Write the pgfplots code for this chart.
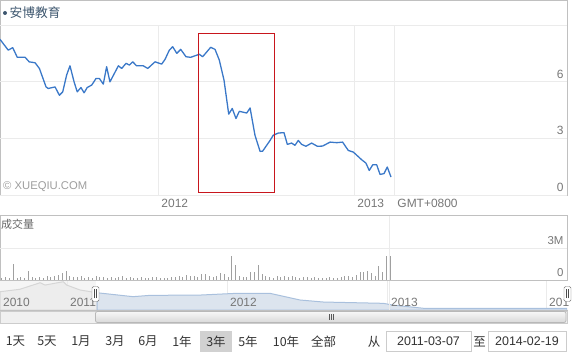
\documentclass[border=0pt]{standalone}
\usepackage{fontspec}
\setmainfont{Liberation Sans}
\newfontfamily\cjk{Noto Sans CJK SC}
\usepackage{pgfplots}
\pgfplotsset{compat=1.18}
\definecolor{pline}{RGB}{58,120,200}
\definecolor{framec}{HTML}{C0C0C0}
\definecolor{gridc}{HTML}{EBEBEB}
\definecolor{lab}{HTML}{777777}
\definecolor{leg}{HTML}{3E576F}
\definecolor{barc}{HTML}{A0A0A0}
\definecolor{navfill}{HTML}{DCE4EE}
\definecolor{navline}{HTML}{A9C0DD}
\definecolor{navgfill}{HTML}{EDEDED}
\definecolor{navgline}{HTML}{D6D6D6}
\definecolor{redbox}{HTML}{C8161D}
\begin{document}
\begin{tikzpicture}
\useasboundingbox (0,0) rectangle (574bp,352bp);
% pane frames
\draw[framec, line width=0.8bp] (0.5bp,156.5bp) rectangle (567.5bp,351.5bp);
\draw[framec, line width=0.8bp] (0.5bp,72bp) rectangle (567.5bp,136.5bp);
\fill[white!96!black] (0bp,42bp) rectangle (96bp,72bp);
% main price pane
\begin{axis}[
  at={(0bp,157bp)}, anchor=south west, scale only axis,
  width=567bp, height=170bp,
  xmin=2011.194, xmax=2014.087, ymin=0, ymax=9,
  axis line style={draw=none},
  xtick={2012,2013,2013.204}, xticklabels={2012,2013,GMT+0800},
  ytick={0,3,6,9}, yticklabels={0,3,6,},
  yticklabel pos=right,
  major tick length=0pt,
  grid=major, major grid style={gridc, line width=0.8bp},
  xticklabel style={anchor=north west, font=\fontsize{12}{14}\selectfont, text=lab, yshift=-1bp},
  yticklabel style={anchor=south east, font=\fontsize{12}{14}\selectfont, text=lab},
]
\addplot[pline, line width=1.3bp, line join=round] coordinates {
(2011.194,8.24) (2011.236,7.67) (2011.259,7.80) (2011.282,7.29) (2011.322,7.29)
(2011.343,7.05) (2011.373,7.00) (2011.395,6.70) (2011.429,5.72) (2011.440,5.64)
(2011.475,5.72) (2011.497,5.28) (2011.514,5.46) (2011.534,6.35) (2011.551,6.84)
(2011.572,5.99) (2011.588,5.46) (2011.607,5.69) (2011.623,5.41) (2011.639,5.69)
(2011.662,5.82) (2011.684,6.17) (2011.701,6.17) (2011.721,5.87) (2011.738,6.79)
(2011.755,5.99) (2011.798,6.84) (2011.815,6.70) (2011.837,6.97) (2011.854,6.88)
(2011.871,7.05) (2011.891,6.84) (2011.925,6.84) (2011.948,6.70) (2011.985,7.05)
(2012.019,6.93) (2012.036,7.18) (2012.058,7.67) (2012.075,7.85) (2012.096,7.50)
(2012.116,7.71) (2012.143,7.32) (2012.167,7.29) (2012.211,7.45) (2012.228,7.32)
(2012.269,7.82) (2012.291,7.71) (2012.313,7.14) (2012.337,6.08) (2012.361,4.28)
(2012.379,4.58) (2012.398,4.05) (2012.415,4.43) (2012.453,4.34) (2012.470,4.61)
(2012.495,3.16) (2012.521,2.31) (2012.534,2.32) (2012.572,2.89) (2012.588,3.16)
(2012.614,3.28) (2012.643,3.30) (2012.660,2.68) (2012.682,2.75) (2012.699,2.63)
(2012.716,2.89) (2012.733,2.68) (2012.755,2.58) (2012.784,2.75) (2012.813,2.58)
(2012.840,2.59) (2012.878,2.80) (2012.912,2.77) (2012.942,2.80) (2012.971,2.36)
(2012.997,2.27) (2013.039,1.87) (2013.061,1.69) (2013.078,1.30) (2013.096,1.60)
(2013.116,1.60) (2013.133,1.09) (2013.153,1.13) (2013.170,1.48) (2013.189,0.95)
};
\end{axis}
% volume pane
\begin{axis}[
  at={(0bp,72bp)}, anchor=south west, scale only axis,
  width=567bp, height=64bp,
  xmin=2011.194, xmax=2014.087, ymin=0, ymax=6,
  axis line style={draw=none},
  xtick=\empty,
  ytick={0,3}, yticklabels={0,3M},
  yticklabel pos=right,
  major tick length=0pt,
  ymajorgrids, major grid style={gridc, line width=0.8bp},
  yticklabel style={anchor=south east, font=\fontsize{11.5}{13}\selectfont, text=lab},
]
\addplot[ycomb, barc, line width=1bp, no marks] coordinates {
(2011.204,0.20) (2011.223,0.25) (2011.242,0.15) (2011.262,1.50) (2011.281,0.22)
(2011.300,0.30) (2011.319,0.18) (2011.339,0.87) (2011.358,0.25) (2011.377,0.20)
(2011.396,0.28) (2011.416,0.22) (2011.435,0.35) (2011.454,0.30) (2011.473,0.40)
(2011.492,0.47) (2011.512,0.63) (2011.531,0.84) (2011.550,0.35) (2011.569,0.30)
(2011.589,0.25) (2011.608,0.38) (2011.627,0.22) (2011.646,0.30) (2011.666,0.20)
(2011.685,0.33) (2011.704,0.25) (2011.723,0.28) (2011.742,0.20) (2011.762,0.30)
(2011.781,0.22) (2011.800,0.25) (2011.819,0.35) (2011.839,0.20) (2011.858,0.25)
(2011.877,0.18) (2011.896,0.22) (2011.916,0.28) (2011.935,0.20) (2011.954,0.15)
(2011.973,0.25) (2011.992,0.30) (2012.012,0.18) (2012.031,0.22) (2012.050,0.20)
(2012.069,0.25) (2012.089,0.28) (2012.108,0.35) (2012.127,0.30) (2012.146,0.45)
(2012.166,0.38) (2012.185,0.40) (2012.204,0.30) (2012.223,0.56) (2012.242,0.56)
(2012.262,0.35) (2012.281,0.30) (2012.300,0.40) (2012.319,0.63) (2012.339,0.53)
(2012.358,0.30) (2012.377,2.25) (2012.396,1.40) (2012.416,0.35) (2012.435,0.25)
(2012.454,0.30) (2012.473,0.72) (2012.492,0.72) (2012.512,1.40) (2012.531,0.53)
(2012.550,0.40) (2012.569,0.30) (2012.589,0.22) (2012.608,0.35) (2012.627,0.25)
(2012.646,0.40) (2012.666,0.30) (2012.685,0.35) (2012.704,0.28) (2012.723,0.22)
(2012.742,0.30) (2012.762,0.25) (2012.781,0.20) (2012.800,0.28) (2012.819,0.22)
(2012.839,0.18) (2012.858,0.20) (2012.877,0.25) (2012.896,0.20) (2012.916,0.22)
(2012.935,0.30) (2012.954,0.35) (2012.973,0.40) (2012.992,0.30) (2013.012,0.45)
(2013.031,0.72) (2013.050,0.78) (2013.069,0.84) (2013.089,0.63) (2013.108,0.40)
(2013.127,1.31) (2013.146,0.75) (2013.166,2.25) (2013.185,2.25)
};
\end{axis}
% navigator
\begin{axis}[
  at={(0bp,42bp)}, anchor=south west, scale only axis,
  width=567bp, height=30bp,
  xmin=2010.576, xmax=2014.127, ymin=0, ymax=20.69,
  axis line style={draw=none},
  xtick={2011,2012,2013,2014}, xticklabel=\empty,
  ytick=\empty,
  major tick length=0pt,
  xmajorgrids, major grid style={gridc, line width=0.8bp},
]
\addplot[fill=navgfill, draw=navgline, line width=1bp] coordinates {
(2010.576,12.6) (2010.701,14.3) (2010.827,18.8) (2010.858,17.2) (2010.972,19.5)
(2010.994,17.2) (2011.077,13.8) (2011.184,11.9)
} \closedcycle;
\addplot[fill=navfill, draw=navline, line width=1bp] coordinates {
(2011.184,11.9) (2011.409,9.2) (2011.515,10.1) (2011.829,10.3) (2012.058,11.5)
(2012.267,11.5) (2012.455,6.9) (2012.601,5.5) (2012.977,4.6) (2013.037,3.4)
(2013.227,1.2) (2014.127,1.2)
} \closedcycle;
\end{axis}
% volume/navigator separators and vertical line
\draw[gridc, line width=0.8bp] (389bp,42bp) -- (389bp,136bp);
\draw[framec, line width=0.8bp] (0bp,72bp) -- (567.5bp,72bp);
\draw[framec, line width=0.8bp] (0bp,41.5bp) -- (567.5bp,41.5bp);
% annotation box
\draw[redbox, line width=1bp] (198.5bp,159bp) rectangle (274bp,318bp);
% legend and texts
\fill[leg] (5bp,339bp) circle (2bp);
\node[anchor=west, inner sep=0pt, text=leg, font=\cjk\fontsize{12.8}{14}\selectfont] at (9.5bp,339bp) {安博教育};
\node[anchor=west, inner sep=0pt, text=white!62!black, font=\fontsize{11.3}{13}\selectfont] at (3bp,165bp) {© XUEQIU.COM};
\node[anchor=west, inner sep=0pt, text=white!40!black, font=\cjk\fontsize{11}{13}\selectfont] at (1bp,128bp) {成交量};
% navigator labels
\begin{scope}[font=\fontsize{12}{14}\selectfont, text=lab]
\node[anchor=west, inner sep=0pt] at (3bp,50bp) {2010};
\node[anchor=west, inner sep=0pt] at (70bp,50bp) {2011};
\node[anchor=west, inner sep=0pt] at (230bp,50bp) {2012};
\node[anchor=west, inner sep=0pt] at (391bp,50bp) {2013};
\node[anchor=west, inner sep=0pt] at (549bp,50bp) {201};
\end{scope}
% handles
\draw[fill=white, draw=black!55, rounded corners=1.5bp] (92bp,50.5bp) rectangle (99bp,65.5bp);
\draw[black!70, line width=0.8bp] (94.5bp,53.5bp) -- (94.5bp,62.5bp) (96.5bp,53.5bp) -- (96.5bp,62.5bp);
\draw[fill=white, draw=black!55, rounded corners=1.5bp] (564bp,50.5bp) rectangle (571bp,65.5bp);
\draw[black!70, line width=0.8bp] (566.5bp,53.5bp) -- (566.5bp,62.5bp) (568.5bp,53.5bp) -- (568.5bp,62.5bp);
% scrollbar
\draw[fill=white!94!black, draw=white!80!black, line width=0.8bp] (0.5bp,29bp) rectangle (567.5bp,41bp);
\draw[top color=white!97!black, bottom color=white!85!black, draw=white!72!black, line width=0.8bp, rounded corners=2bp] (95.5bp,29.5bp) rectangle (566bp,40.5bp);
\draw[black!65, line width=0.7bp] (329.5bp,32bp) -- (329.5bp,37.5bp) (331.5bp,32bp) -- (331.5bp,37.5bp) (333.5bp,32bp) -- (333.5bp,37.5bp);
% range selector
\fill[white!82!black] (200bp,0bp) rectangle (232bp,21bp);
\draw[white!80!black, line width=0.8bp, fill=white] (386bp,1bp) rectangle (471bp,21bp);
\draw[white!80!black, line width=0.8bp, fill=white] (488bp,1bp) rectangle (566bp,21bp);
\begin{scope}[font=\cjk\fontsize{12.5}{14}\selectfont, text=black!80]
\node at (15.5bp,10.5bp) {1天};
\node at (47bp,10.5bp) {5天};
\node at (81bp,10.5bp) {1月};
\node at (115bp,10.5bp) {3月};
\node at (148bp,10.5bp) {6月};
\node at (182bp,10.5bp) {1年};
\node at (216bp,10.5bp) {3年};
\node at (248bp,10.5bp) {5年};
\node at (286bp,10.5bp) {10年};
\node at (323.5bp,10.5bp) {全部};
\node at (374bp,10.5bp) {从};
\node at (479.5bp,10.5bp) {至};
\end{scope}
\begin{scope}[font=\fontsize{12.5}{14}\selectfont, text=black!80]
\node at (428.5bp,11bp) {2011-03-07};
\node at (527bp,11bp) {2014-02-19};
\end{scope}
\end{tikzpicture}
\end{document}
